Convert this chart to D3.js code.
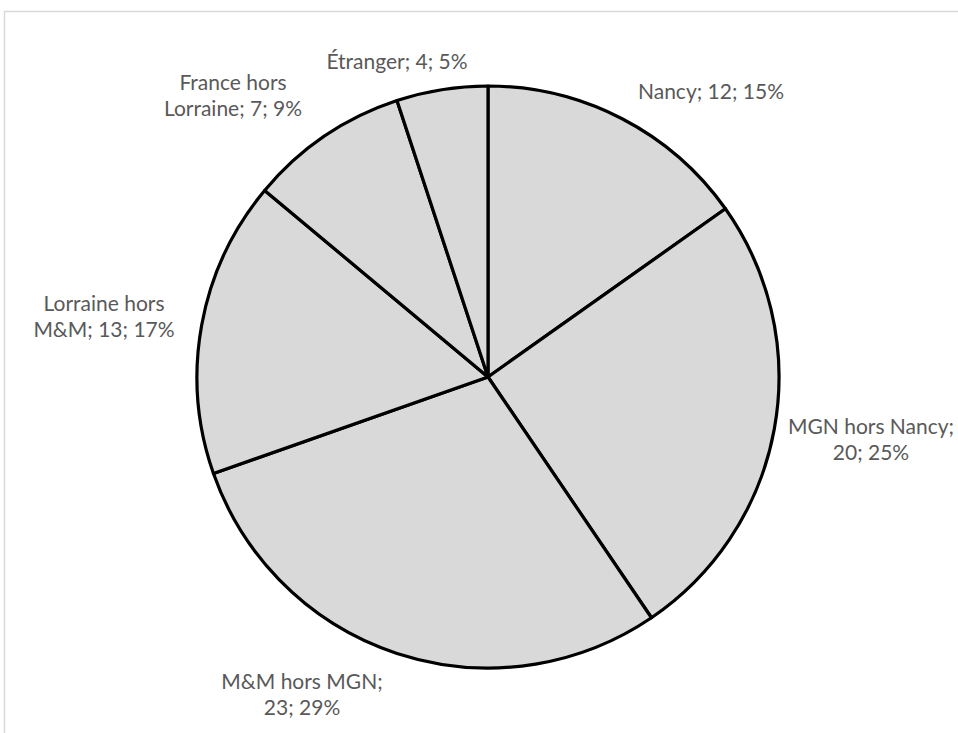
<!DOCTYPE html>
<html>
<head>
<meta charset="utf-8">
<script src="https://cdn.jsdelivr.net/npm/d3@7"></script>
<style>
  html, body { margin: 0; padding: 0; background: #fff; }
  svg { display: block; }
</style>
</head>
<body>
<svg id="chart" width="958" height="733"></svg>
<script>
// ---- Data ----
const categories = ["Nancy", "MGN hors Nancy", "M&M hors MGN", "Lorraine hors M&M", "France hors Lorraine", "Étranger"];
const values = [12, 20, 23, 13, 7, 4];
const percentLabels = ["15%", "25%", "29%", "17%", "9%", "5%"];

// ---- Layout (not data) ----
const W = 958, H = 733;
const cx = 488, cy = 377, R = 291;
// label block centre offsets from pie centre and line break (number of words on first line, 0 = single line)
const labelLayout = [
  { dx: 223, dy: -285, breakAfter: 0 },
  { dx: 383, dy: 63, breakAfter: 3 },
  { dx: -186, dy: 318, breakAfter: 3 },
  { dx: -384, dy: -60, breakAfter: 2 },
  { dx: -255, dy: -281, breakAfter: 2 },
  { dx: -91, dy: -315, breakAfter: 0 }
];
const fontSize = 21, lineH = 26;

const svg = d3.select("#chart");

// chart area border (light grey)
svg.append("path")
  .attr("d", `M4.5,${H} V11.5 H${W}`)
  .attr("fill", "none")
  .attr("stroke", "#d9d9d9")
  .attr("stroke-width", 1.5);

const data = categories.map((c, i) => ({ cat: c, value: values[i], pct: percentLabels[i], i }));

const pie = d3.pie().value(d => d.value).sort(null).startAngle(0).endAngle(2 * Math.PI);
const arc = d3.arc().innerRadius(0).outerRadius(R);

const g = svg.append("g").attr("transform", `translate(${cx},${cy})`);

g.selectAll("path.slice")
  .data(pie(data))
  .join("path")
  .attr("class", "slice")
  .attr("d", arc)
  .attr("fill", "#d9d9d9")
  .attr("stroke", "#000")
  .attr("stroke-width", 3.2)
  .attr("stroke-linejoin", "round");

// labels
const lbl = g.selectAll("text.lbl")
  .data(data)
  .join("text")
  .attr("class", "lbl")
  .attr("text-anchor", "middle")
  .attr("font-family", "Lato, 'Open Sans', sans-serif")
  .attr("font-size", fontSize)
  .attr("fill", "#595959");

lbl.each(function(d) {
  const L = labelLayout[d.i];
  const full = `${d.cat}; ${d.value}; ${d.pct}`;
  const words = full.split(" ");
  const lines = L.breakAfter > 0
    ? [words.slice(0, L.breakAfter).join(" "), words.slice(L.breakAfter).join(" ")]
    : [full];
  const n = lines.length;
  const t = d3.select(this);
  lines.forEach((ln, k) => {
    t.append("tspan")
      .attr("x", L.dx)
      .attr("y", L.dy + (k - (n - 1) / 2) * lineH + fontSize * 0.35)
      .text(ln);
  });
});
</script>
</body>
</html>
